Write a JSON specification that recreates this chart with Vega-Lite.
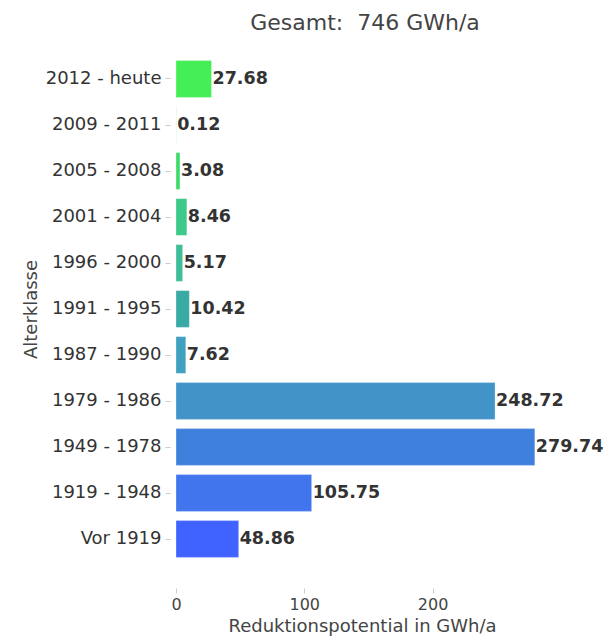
{
  "$schema": "https://vega.github.io/schema/vega-lite/v6.json",
  "autosize": "none",
  "width": 372,
  "height": 506,
  "padding": {"left": 176, "top": 56, "right": 67, "bottom": 79},
  "background": "white",
  "title": {"text": "Gesamt:\u00a0 746 GWh/a", "anchor": "middle", "font": "DejaVu Sans", "fontSize": 22, "fontWeight": "normal", "color": "#444444", "offset": 21, "dx": 3},
  "data": {"values": [
    {"klasse": "2012 - heute", "wert": 27.68, "farbe": "#44EE55"},
    {"klasse": "2009 - 2011", "wert": 0.12, "farbe": "#42E460"},
    {"klasse": "2005 - 2008", "wert": 3.08, "farbe": "#3EDB6A"},
    {"klasse": "2001 - 2004", "wert": 8.46, "farbe": "#3DC98A"},
    {"klasse": "1996 - 2000", "wert": 5.17, "farbe": "#3DBE98"},
    {"klasse": "1991 - 1995", "wert": 10.42, "farbe": "#3AAAA5"},
    {"klasse": "1987 - 1990", "wert": 7.62, "farbe": "#3FA0BF"},
    {"klasse": "1979 - 1986", "wert": 248.72, "farbe": "#4193C8"},
    {"klasse": "1949 - 1978", "wert": 279.74, "farbe": "#4080DD"},
    {"klasse": "1919 - 1948", "wert": 105.75, "farbe": "#4075EE"},
    {"klasse": "Vor 1919", "wert": 48.86, "farbe": "#4062FF"}
  ]},
  "encoding": {
    "y": {"field": "klasse", "type": "nominal", "sort": null,
      "scale": {"paddingInner": 0.2, "paddingOuter": 0.1},
      "axis": {"title": "Alterklasse", "titleFont": "DejaVu Sans", "titleFontSize": 18, "titleFontWeight": "normal", "titleColor": "#444444", "titlePadding": 5,
        "labelFont": "DejaVu Sans", "labelFontSize": 18, "labelColor": "#333333", "labelPadding": 4, "offset": 6,
        "domain": false, "ticks": true, "tickSize": 5, "tickColor": "#cccccc", "grid": false}},
    "x": {"field": "wert", "type": "quantitative",
      "scale": {"domain": [0, 290], "nice": false},
      "axis": {"title": "Reduktionspotential in GWh/a", "titleFont": "DejaVu Sans", "titleFontSize": 18, "titleFontWeight": "normal", "titleColor": "#444444", "titlePadding": 5,
        "labelFont": "DejaVu Sans", "labelFontSize": 16, "labelColor": "#444444", "values": [0, 100, 200], "labelPadding": 3, "labelFlush": false,
        "domain": false, "ticks": true, "tickSize": 5, "tickColor": "#cccccc", "grid": false, "offset": 26}}
  },
  "layer": [
    {"mark": {"type": "bar", "stroke": "#ffffff", "strokeWidth": 0.5, "strokeOpacity": 0.6},
     "encoding": {"color": {"field": "farbe", "type": "nominal", "scale": null}}},
    {"mark": {"type": "text", "align": "left", "dx": 1, "font": "DejaVu Sans", "fontSize": 17.5, "fontWeight": "bold", "color": "#333333"},
     "encoding": {"text": {"field": "wert", "type": "quantitative", "format": ".2f"}}}
  ],
  "config": {"view": {"stroke": null}}
}
